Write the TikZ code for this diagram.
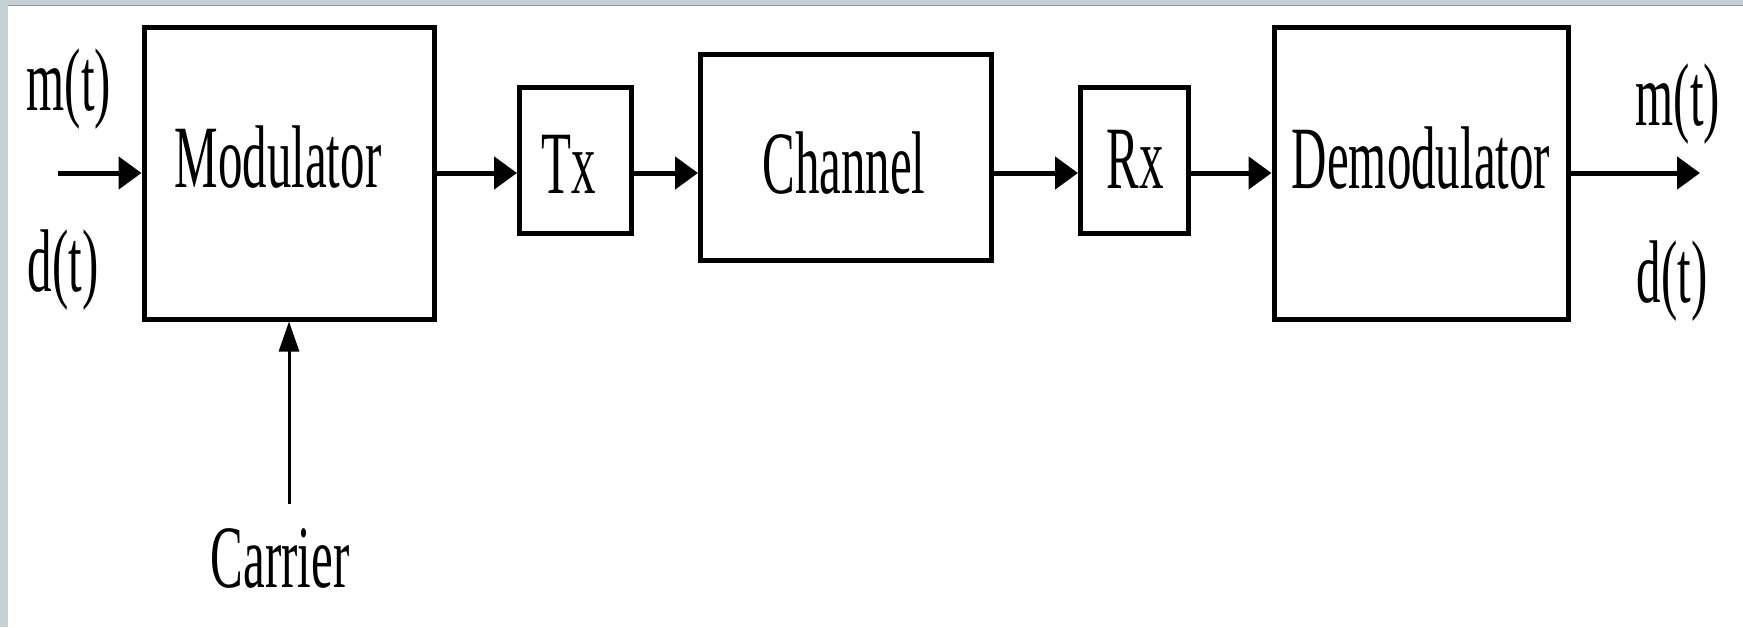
\documentclass[tikz,border=0pt]{standalone}
\usepackage{fontspec}
\usetikzlibrary{arrows.meta}
% narrow, tall serif lettering
\newfontfamily\lblfont[FakeStretch=0.55]{Liberation Serif}
\definecolor{framegrey}{RGB}{198,209,215}
\definecolor{frameedge}{RGB}{140,151,156}
\begin{document}
\begin{tikzpicture}[x=1pt,y=-1pt,
  block/.style={draw,line width=5pt,inner sep=0pt,minimum width=#1},
  lbl/.style={font=\lblfont\fontsize{89}{92}\selectfont,inner sep=0pt,anchor=base},
  conn/.style={line width=5pt,-{Triangle[length=23pt,width=32pt]}},
  carrierconn/.style={line width=3pt,-{Triangle[length=30pt,width=20pt]}}]
  \useasboundingbox (0,0) rectangle (1743,627);
  % window frame
  \fill[framegrey] (0,0) rectangle (1743,627);
  \fill[white] (8,6) rectangle (1743,627);
  \draw[frameedge,line width=1.2pt] (8,5.6) -- (1743,5.6);

  % blocks
  \node[block=290pt,minimum height=292pt] (mod)   at (289,173) {};
  \node[block=112pt,minimum height=146pt] (tx)    at (575.5,160.5) {};
  \node[block=291pt,minimum height=206pt] (ch)    at (846,157.5) {};
  \node[block=108pt,minimum height=146pt] (rx)    at (1134.5,160.5) {};
  \node[block=294pt,minimum height=292pt] (demod) at (1421,173) {};

  % block captions
  \node[lbl] (modtxt)   at (278,187)  {Modulator};
  \node[lbl] (txtxt)    at (569,193)  {Tx};
  \node[lbl] (chtxt)    at (844,193)  {Channel};
  \node[lbl] (rxtxt)    at (1135,188) {Rx};
  \node[lbl] (demodtxt) at (1421,188) {Demodulator};

  % signal labels
  \node[lbl] (min)  at (69,110)   {m(t)};
  \node[lbl] (din)  at (63,291)   {d(t)};
  \node[lbl] (mout) at (1678,125) {m(t)};
  \node[lbl] (dout) at (1672,302) {d(t)};
  \node[lbl] (carrier) at (280,587) {Carrier};

  % free ends of the signal path
  \coordinate (src) at (58,173);
  \coordinate (sink) at (1700,173);
  \coordinate (carrierend) at (289,504);

  % connectors
  \draw[conn] (src) -- (mod.west);
  \draw[conn] (mod.east) -- (tx.west |- mod.east);
  \draw[conn] (tx.east |- mod.east) -- (ch.west |- mod.east);
  \draw[conn] (ch.east |- mod.east) -- (rx.west |- mod.east);
  \draw[conn] (rx.east |- mod.east) -- (demod.west);
  \draw[conn] (demod.east) -- (sink);
  \draw[carrierconn] (carrierend) -- (carrierend |- mod.south);
\end{tikzpicture}
\end{document}
